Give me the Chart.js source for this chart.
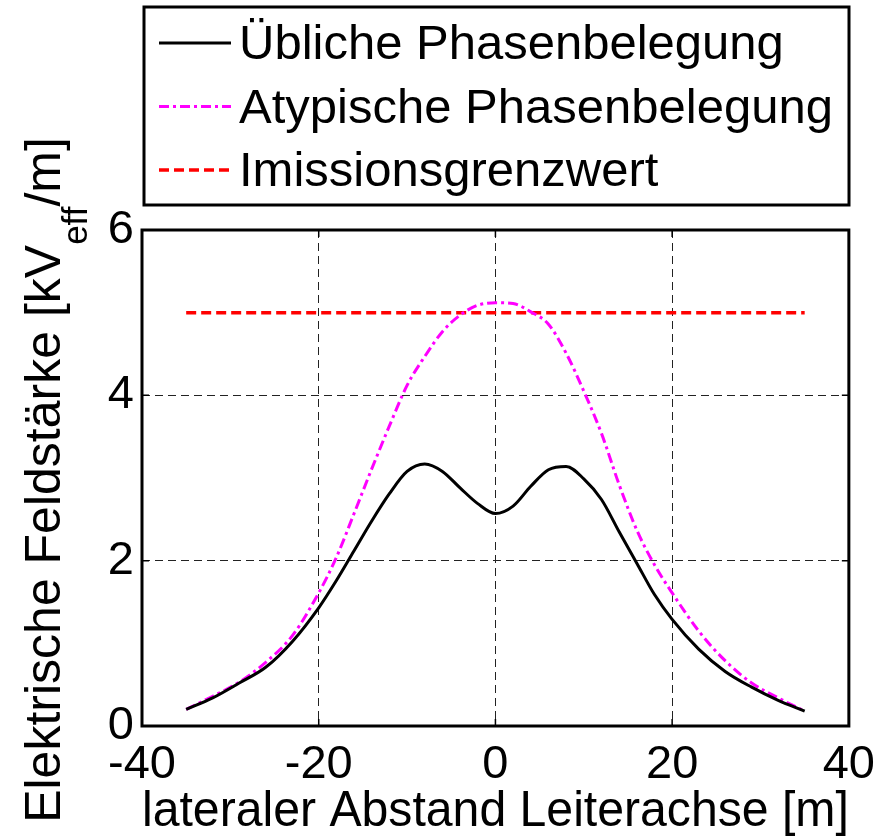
<!DOCTYPE html>
<html>
<head>
<meta charset="utf-8">
<script src="https://cdn.jsdelivr.net/npm/chart.js@4/dist/chart.umd.min.js"></script>
<style>
  html, body { margin: 0; padding: 0; background: #fff; }
  canvas { display: block; }
</style>
</head>
<body>
<canvas id="chart" width="886" height="836"></canvas>
<script>
const FONT = "'Liberation Sans', Arial, sans-serif";

// lateral distance from the conductor axis [m]
const abstand = [-35, -32, -29, -26, -23, -20, -18, -16, -14, -12, -10, -8, -6, -4, -2, 0,
  2, 4, 6, 8, 10, 12, 14, 16, 18, 20, 23, 26, 29, 32, 35];

// field strength [kV_eff/m]
const ueblich = [0.20, 0.34, 0.52, 0.71, 1.02, 1.43, 1.76, 2.12, 2.48, 2.81, 3.08, 3.17, 3.08, 2.88, 2.69, 2.57,
  2.66, 2.90, 3.10, 3.14, 2.99, 2.74, 2.35, 1.97, 1.59, 1.29, 0.93, 0.66, 0.47, 0.31, 0.18];
const atypisch = [0.20, 0.36, 0.53, 0.77, 1.09, 1.61, 2.04, 2.57, 3.11, 3.63, 4.12, 4.47, 4.77, 4.97, 5.09, 5.12,
  5.11, 5.01, 4.86, 4.51, 4.05, 3.54, 2.92, 2.37, 1.95, 1.61, 1.15, 0.79, 0.52, 0.34, 0.18];

const grenzX = [-35, 35];
const grenzY = [5.0, 5.0];

const xTicks = [-40, -20, 0, 20, 40];
const yTicks = [0, 2, 4, 6];

const toPoints = (xs, ys) => xs.map((x, i) => ({ x: x, y: ys[i] }));

// boxed legend above the plot
const legendBox = {
  id: "legendBox",
  afterDraw(chart) {
    const c = chart.ctx;
    const left = 144, top = 7, right = 849, bottom = 205;
    c.save();
    c.fillStyle = "#fff";
    c.fillRect(left, top, right - left, bottom - top);
    c.lineWidth = 3;
    c.strokeStyle = "#000";
    c.setLineDash([]);
    c.strokeRect(left, top, right - left, bottom - top);
    c.font = "49px " + FONT;
    c.textBaseline = "alphabetic";
    c.textAlign = "left";
    chart.data.datasets.forEach((ds, i) => {
      const yLine = 43 + i * 63.5;
      c.save();
      c.strokeStyle = ds.borderColor;
      c.lineWidth = ds.borderWidth;
      c.setLineDash(ds.borderDash || []);
      c.beginPath();
      c.moveTo(159, yLine);
      c.lineTo(231, yLine);
      c.stroke();
      c.restore();
      c.fillStyle = "#000";
      c.fillText(ds.label, 239, yLine + 16);
    });
    c.restore();
  }
};

// axes frame with inward ticks
const frame = {
  id: "frame",
  afterDatasetsDraw(chart) {
    const { ctx: c, chartArea: a, scales } = chart;
    c.save();
    c.strokeStyle = "#000";
    c.lineWidth = 1.5;
    c.setLineDash([]);
    c.beginPath();
    xTicks.forEach(v => {
      const px = scales.x.getPixelForValue(v);
      c.moveTo(px, a.bottom); c.lineTo(px, a.bottom - 7);
      c.moveTo(px, a.top); c.lineTo(px, a.top + 7);
    });
    yTicks.forEach(v => {
      const py = scales.y.getPixelForValue(v);
      c.moveTo(a.left, py); c.lineTo(a.left + 7, py);
      c.moveTo(a.right, py); c.lineTo(a.right - 7, py);
    });
    c.stroke();
    c.lineWidth = 3;
    c.strokeRect(a.left, a.top, a.right - a.left, a.bottom - a.top);
    c.restore();
  }
};

// rotated y title with subscript "eff"
const yTitle = {
  id: "yTitle",
  afterDraw(chart) {
    const c = chart.ctx;
    const a = chart.chartArea;
    const main1 = "Elektrische Feldstärke [kV";
    const sub = "eff";
    const main2 = "/m]";
    const big = "50px " + FONT, small = "35px " + FONT;
    c.save();
    c.font = big;
    const w1 = c.measureText(main1).width;
    const w3 = c.measureText(main2).width;
    c.font = small;
    const w2 = c.measureText(sub).width;
    const total = w1 + w2 + w3;
    const cy = (a.top + a.bottom) / 2 + 2;
    c.translate(60, cy);
    c.rotate(-Math.PI / 2);
    c.fillStyle = "#000";
    c.textBaseline = "alphabetic";
    c.textAlign = "left";
    let x = -total / 2;
    c.font = big;
    c.fillText(main1, x, 0);
    x += w1;
    c.font = small;
    c.fillText(sub, x, 27);
    x += w2;
    c.font = big;
    c.fillText(main2, x, 0);
    c.restore();
  }
};

const ctx = document.getElementById("chart").getContext("2d");

new Chart(ctx, {
  type: "line",
  data: {
    datasets: [{
      label: "Übliche Phasenbelegung",
      data: toPoints(abstand, ueblich),
      borderColor: "#000000",
      borderWidth: 3,
      borderDash: [],
      cubicInterpolationMode: "monotone",
      pointRadius: 0
    }, {
      label: "Atypische Phasenbelegung",
      data: toPoints(abstand, atypisch),
      borderColor: "#ff00ff",
      borderWidth: 3,
      borderDash: [10, 4, 3, 4],
      cubicInterpolationMode: "monotone",
      pointRadius: 0
    }, {
      label: "Imissionsgrenzwert",
      data: toPoints(grenzX, grenzY),
      borderColor: "#ff0000",
      borderWidth: 3.5,
      borderDash: [10, 5],
      pointRadius: 0
    }]
  },
  options: {
    responsive: false,
    animation: false,
    layout: { padding: { top: 230, right: 37, left: 0, bottom: 0 } },
    plugins: {
      legend: { display: false },
      tooltip: { enabled: false }
    },
    scales: {
      x: {
        type: "linear",
        min: -40,
        max: 40,
        afterBuildTicks: s => { s.ticks = xTicks.map(v => ({ value: v })); },
        afterFit: s => { s.height = 110; },
        grid: { color: "#222", lineWidth: 1, drawTicks: false },
        border: { display: false, dash: [8, 5] },
        ticks: {
          color: "#000",
          padding: 11,
          maxRotation: 0,
          font: { family: FONT, size: 47 }
        },
        title: {
          display: true,
          text: "lateraler Abstand Leiterachse [m]",
          color: "#000",
          font: { family: FONT, size: 50, lineHeight: 1 },
          padding: { top: 0, bottom: -1 }
        }
      },
      y: {
        type: "linear",
        min: 0,
        max: 6,
        afterBuildTicks: s => { s.ticks = yTicks.map(v => ({ value: v })); },
        afterFit: s => { s.width = 142; },
        grid: { color: "#222", lineWidth: 1, drawTicks: false },
        border: { display: false, dash: [8, 5] },
        ticks: {
          color: "#000",
          padding: 8,
          font: { family: FONT, size: 47 }
        }
      }
    }
  },
  plugins: [legendBox, frame, yTitle]
});
</script>
</body>
</html>
